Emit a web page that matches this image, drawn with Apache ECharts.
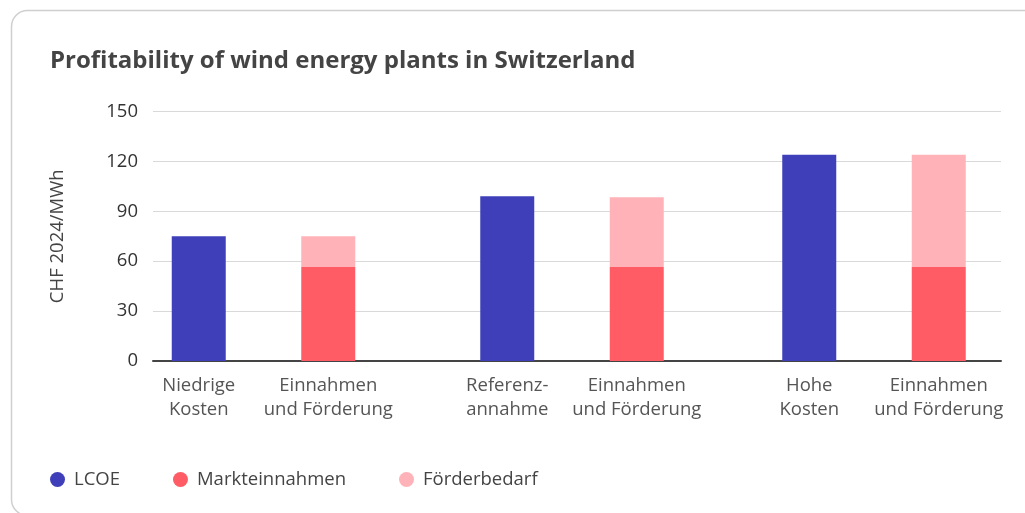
<!DOCTYPE html>
<html>
<head>
<meta charset="utf-8">
<script src="https://cdn.jsdelivr.net/npm/echarts@6/dist/echarts.min.js"></script>
<style>
  html, body { margin: 0; padding: 0; background: #fff; }
  #main { width: 1025px; height: 513px; }
</style>
</head>
<body>
<div id="main"></div>
<script>
// categories, one pair per scenario
var groupLabels = [
  ['Niedrige\nKosten', 'Einnahmen\nund Förderung'],
  ['Referenz-\nannahme', 'Einnahmen\nund Förderung'],
  ['Hohe\nKosten', 'Einnahmen\nund Förderung']
];
// CHF 2024/MWh
var lcoe = [75, 99, 124];
var markteinnahmen = [56.5, 56.5, 56.5];
var foerderbedarf = [18.5, 42, 67.5];
var yTicks = [0, 30, 60, 90, 120, 150];

var BLUE = '#3f40b9', RED = '#ff5c66', PINK = '#ffb3b8';
var FONT = 'Open Sans';

// pixel layout of the three scenario blocks
var blockLeft = [134, 442.5, 744.5];
var blockWidth = 259;

var grids = [{ left: 153, right: 24, top: 111.5, bottom: 152 }];
var xAxes = [{
  gridIndex: 0, type: 'category', data: [''],
  axisLine: { lineStyle: { color: '#444', width: 2 } },
  axisTick: { show: false }, axisLabel: { show: false }
}];
var yAxes = [{
  gridIndex: 0, type: 'value', min: yTicks[0], max: yTicks[yTicks.length - 1], interval: 30,
  name: 'CHF 2024/MWh', nameLocation: 'middle', nameGap: 86,
  nameTextStyle: { fontFamily: FONT, fontSize: 18.5, color: '#444' },
  axisLabel: { fontFamily: FONT, fontSize: 18.5, color: '#333', margin: 15 },
  splitLine: { lineStyle: { color: '#d9d9d9', width: 1 } },
  axisLine: { show: false }, axisTick: { show: false }
}];
var series = [];

groupLabels.forEach(function (labels, i) {
  var g = i + 1;
  grids.push({ left: blockLeft[i], width: blockWidth, top: 111.5, bottom: 152 });
  xAxes.push({
    gridIndex: g, type: 'category', data: labels,
    axisLine: { show: false }, axisTick: { show: false },
    axisLabel: { fontFamily: FONT, fontSize: 18.5, color: '#555', lineHeight: 24, margin: 13, interval: 0 }
  });
  yAxes.push({ gridIndex: g, type: 'value', min: 0, max: 150, show: false, splitLine: { show: false } });
  series.push({
    name: 'LCOE', type: 'bar', xAxisIndex: g, yAxisIndex: g, barWidth: 54, stack: 's' + g,
    itemStyle: { color: BLUE }, data: [lcoe[i], '-']
  });
  series.push({
    name: 'Markteinnahmen', type: 'bar', xAxisIndex: g, yAxisIndex: g, barWidth: 54, stack: 's' + g,
    itemStyle: { color: RED }, data: ['-', markteinnahmen[i]]
  });
  series.push({
    name: 'Förderbedarf', type: 'bar', xAxisIndex: g, yAxisIndex: g, barWidth: 54, stack: 's' + g,
    itemStyle: { color: PINK }, data: ['-', foerderbedarf[i]]
  });
});

var myChart = echarts.init(document.getElementById('main'));
myChart.setOption({
  animation: false,
  title: {
    text: 'Profitability of wind energy plants in Switzerland',
    left: 45, top: 44,
    textStyle: { fontFamily: FONT, fontSize: 24, fontWeight: 'bold', color: '#444' }
  },
  graphic: [{
    type: 'rect', silent: true, z: -1,
    shape: { x: 11.5, y: 10.5, width: 1040, height: 505, r: 16 },
    style: { fill: 'none', stroke: '#cfcfcf', lineWidth: 1.5 }
  }],
  legend: {
    left: 45, top: 465, itemWidth: 15, itemHeight: 15, itemGap: 53, icon: 'circle',
    textStyle: { fontFamily: FONT, fontSize: 18.5, color: '#444', padding: [0, 0, 0, 4] },
    data: ['LCOE', 'Markteinnahmen', 'Förderbedarf']
  },
  grid: grids,
  xAxis: xAxes,
  yAxis: yAxes,
  series: series
});
</script>
</body>
</html>
